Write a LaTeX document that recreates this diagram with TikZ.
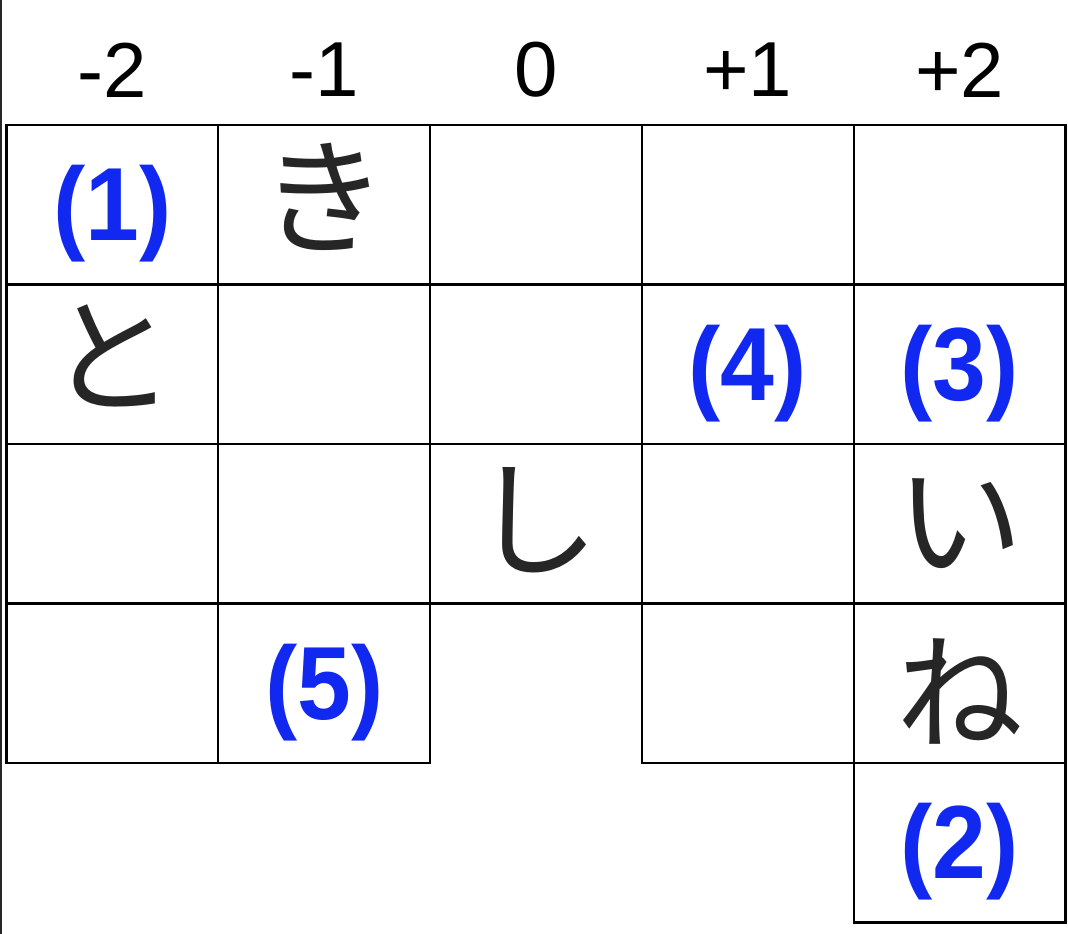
\documentclass[tikz,border=0pt]{standalone}
\usepackage{fontspec}
\setmainfont{Liberation Sans}
\newfontfamily\jp{Noto Sans CJK JP}
\newfontfamily\numfont[FakeStretch=0.93]{Liberation Sans Bold}
\definecolor{numblue}{RGB}{16,40,240}
\tikzset{
	cell/.style={rectangle,draw,line width=2.2pt,minimum width=211.8pt,minimum height=159.5pt,inner sep=0pt,outer sep=0pt},
	head/.style={font=\fontsize{78}{80}\selectfont,inner sep=0pt},
	kana/.style={font=\jp\fontsize{127}{127}\selectfont,text=black!85,inner sep=0pt,yshift=8pt},
	num/.style={font=\numfont\fontsize{104}{104}\selectfont,text=numblue,inner sep=0pt,yshift=-9pt}
}

\begin{document}
\begin{tikzpicture}[x=211.8pt,y=-159.5pt]
	\useasboundingbox (-0.0307,-0.7837) rectangle (5.0118,5.0721);
	\draw [line width=2.5pt,black!85] (-0.026,-0.7837) -- (-0.026,5.0721);

	\node [head] (hm2) at (0.5,-0.345) {-2};
	\node [head] (hm1) at (1.5,-0.345) {-1};
	\node [head] (h0) at (2.5,-0.345) {0};
	\node [head] (hp1) at (3.5,-0.345) {+1};
	\node [head] (hp2) at (4.5,-0.345) {+2};

	\node [cell] (c00) at (0.5,0.5) {};
	\node [cell] (c10) at (1.5,0.5) {};
	\node [cell] (c20) at (2.5,0.5) {};
	\node [cell] (c30) at (3.5,0.5) {};
	\node [cell] (c40) at (4.5,0.5) {};
	\node [cell] (c01) at (0.5,1.5) {};
	\node [cell] (c11) at (1.5,1.5) {};
	\node [cell] (c21) at (2.5,1.5) {};
	\node [cell] (c31) at (3.5,1.5) {};
	\node [cell] (c41) at (4.5,1.5) {};
	\node [cell] (c02) at (0.5,2.5) {};
	\node [cell] (c12) at (1.5,2.5) {};
	\node [cell] (c22) at (2.5,2.5) {};
	\node [cell] (c32) at (3.5,2.5) {};
	\node [cell] (c42) at (4.5,2.5) {};
	\node [cell] (c03) at (0.5,3.5) {};
	\node [cell] (c13) at (1.5,3.5) {};
	\node [cell] (c33) at (3.5,3.5) {};
	\node [cell] (c43) at (4.5,3.5) {};
	\node [cell] (c44) at (4.5,4.5) {};

	\node [num] (n1) at (c00) {(1)};
	\node [num] (n4) at (c31) {(4)};
	\node [num] (n3) at (c41) {(3)};
	\node [num] (n5) at (c13) {(5)};
	\node [num] (n2) at (c44) {(2)};

	\node [kana] (ki) at (c10) {き};
	\node [kana] (to) at (c01) {と};
	\node [kana,yshift=-4pt] (shi) at (c22) {し};
	\node [kana,yshift=-8pt] (i) at (c42) {い};
	\node [kana,yshift=-16pt] (ne) at (c43) {ね};
\end{tikzpicture}
\end{document}
